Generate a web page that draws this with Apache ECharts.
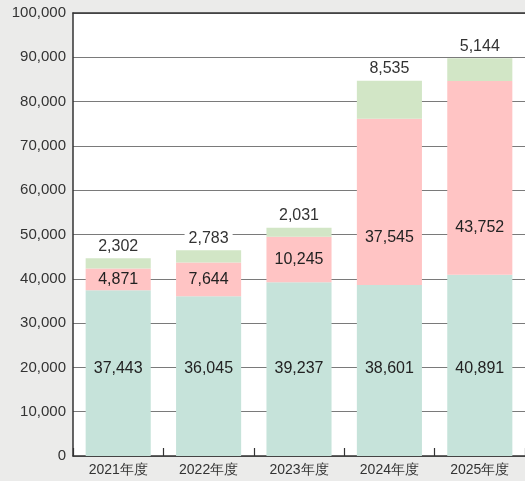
<!DOCTYPE html>
<html>
<head>
<meta charset="utf-8">
<script src="https://cdn.jsdelivr.net/npm/echarts@6/dist/echarts.min.js"></script>
<style>
  html, body { margin: 0; padding: 0; background: #ebebea; }
  #chart { width: 525px; height: 481px; }
</style>
</head>
<body>
<div id="chart"></div>
<script>
const years = ["2021年度", "2022年度", "2023年度", "2024年度", "2025年度"];
const baseValues = [37443, 36045, 39237, 38601, 40891];
const midValues = [4871, 7644, 10245, 37545, 43752];
const topValues = [2302, 2783, 2031, 8535, 5144];

const fmt = (v) => v.toLocaleString("en-US");
const fontFamily = "Liberation Sans, Arial, sans-serif";

const chart = echarts.init(document.getElementById("chart"));

chart.setOption({
  backgroundColor: "#ebebea",
  animation: false,
  grid: {
    left: 73,
    top: 13,
    width: 456,
    height: 443,
    show: true,
    backgroundColor: "#ffffff",
    borderWidth: 0
  },
  xAxis: [
    {
      type: "category",
      data: years,
      axisLine: { lineStyle: { color: "#333333", width: 1.5 } },
      axisTick: { show: true, inside: true, length: 8, lineStyle: { color: "#333333", width: 1.2 } },
      axisLabel: { color: "#333333", fontSize: 14, fontFamily, margin: 7 }
    },
    {
      type: "category",
      position: "top",
      data: years,
      axisLine: { lineStyle: { color: "#333333", width: 1.5 } },
      axisTick: { show: false },
      axisLabel: { show: false }
    }
  ],
  yAxis: {
    type: "value",
    min: 0,
    max: 100000,
    interval: 10000,
    axisLine: { show: true, lineStyle: { color: "#333333", width: 1.5 } },
    axisTick: { show: false },
    axisLabel: { color: "#333333", fontSize: 15, fontFamily, margin: 7, formatter: fmt },
    splitLine: { lineStyle: { color: "#7a7a7a", width: 1.2 } }
  },
  series: [
    {
      name: "base",
      type: "bar",
      stack: "total",
      data: baseValues,
      barWidth: "72%",
      itemStyle: { color: "#c6e3da" },
      label: {
        show: true,
        position: "insideBottom",
        distance: 79,
        color: "#222222",
        fontSize: 16,
        fontFamily,
        formatter: (p) => fmt(p.value)
      }
    },
    {
      name: "mid",
      type: "bar",
      stack: "total",
      data: midValues,
      itemStyle: { color: "#ffc4c4" },
      label: {
        show: true,
        position: "inside",
        color: "#222222",
        fontSize: 16,
        fontFamily,
        formatter: (p) => fmt(p.value)
      },
      // big segments keep their label in the lower part of the bar
      labelLayout: (p) => {
        const cy = p.rect.y + p.rect.height / 2;
        const lowY = p.rect.y + p.rect.height - 47;
        return {
          x: p.rect.x + p.rect.width / 2,
          y: Math.max(cy, lowY),
          align: "center",
          verticalAlign: "middle"
        };
      }
    },
    {
      name: "top",
      type: "bar",
      stack: "total",
      data: topValues,
      itemStyle: { color: "#d2e6c6" },
      label: {
        show: true,
        position: "top",
        distance: 4,
        color: "#333333",
        fontSize: 16,
        fontFamily,
        backgroundColor: "#ffffff",
        padding: [0, 4],
        formatter: (p) => fmt(p.value)
      }
    }
  ]
});
</script>
</body>
</html>
